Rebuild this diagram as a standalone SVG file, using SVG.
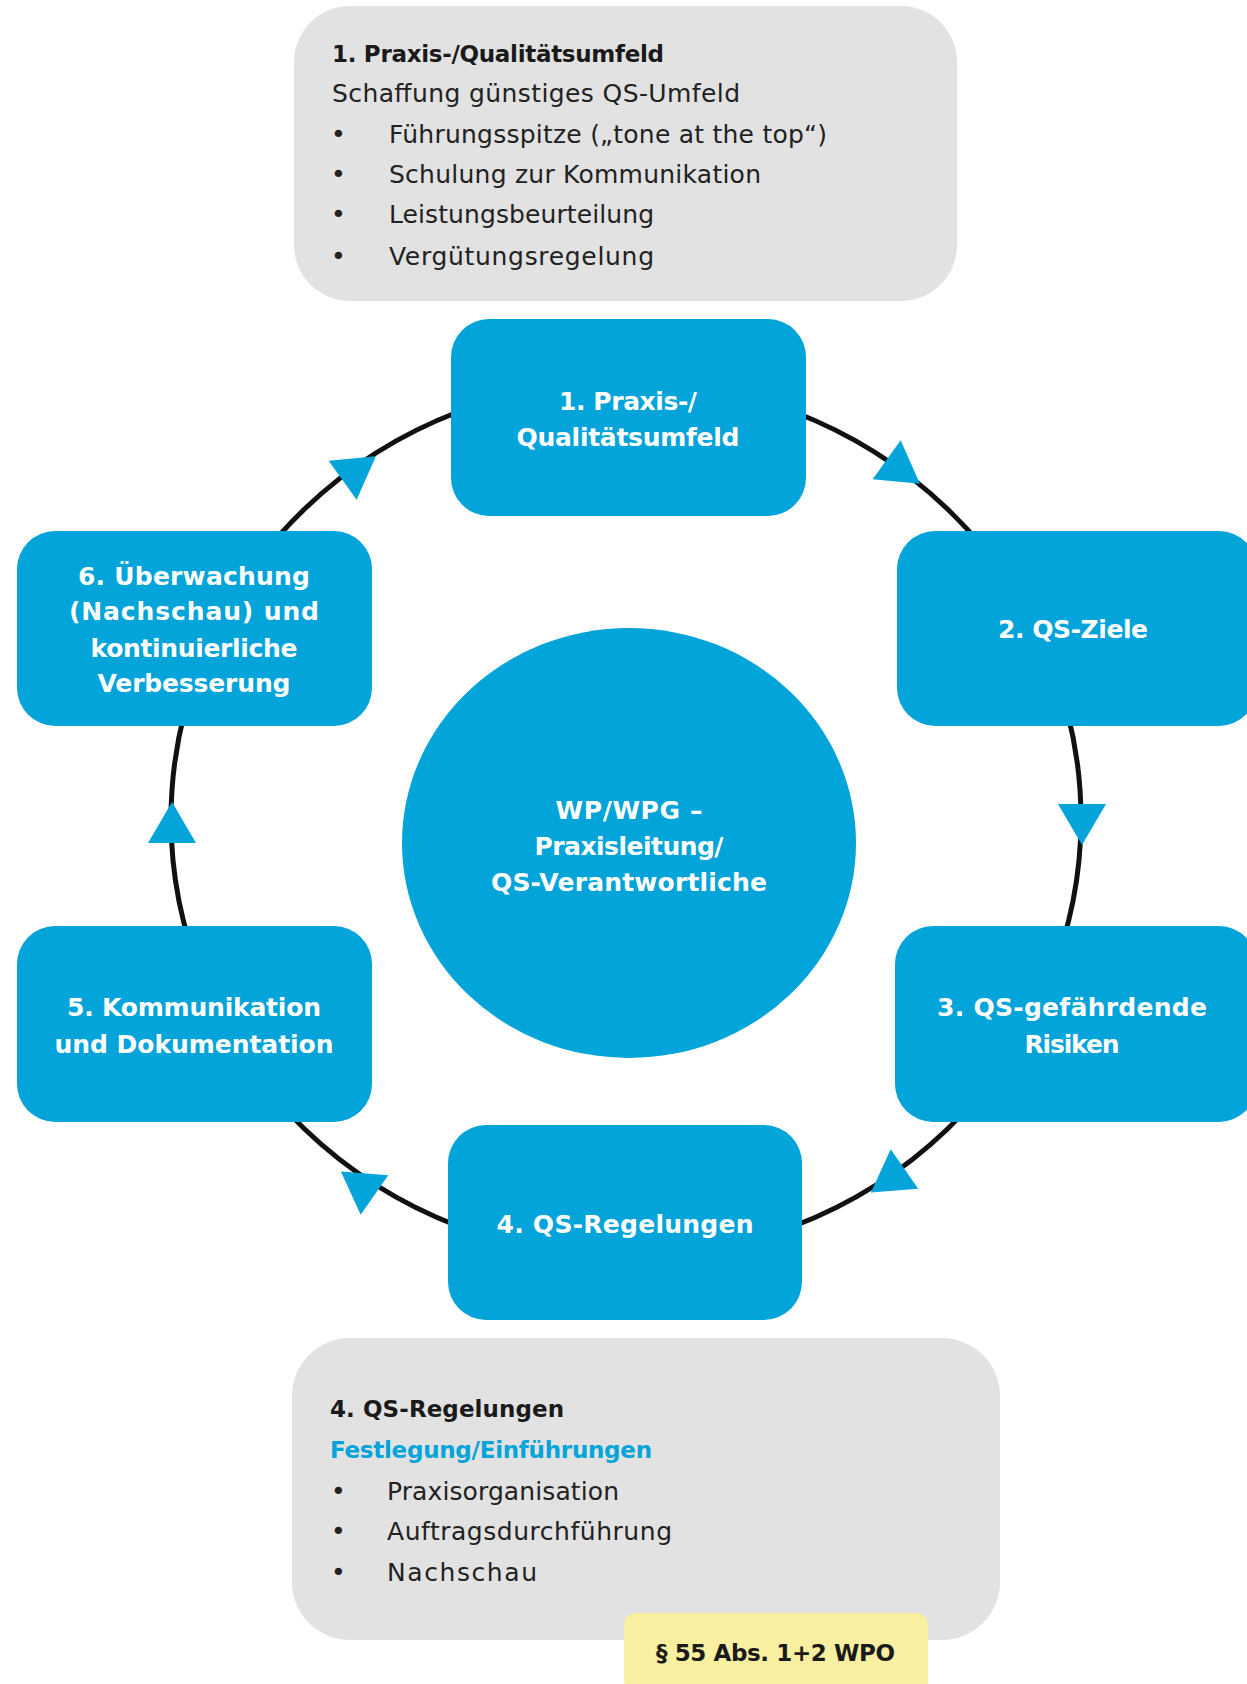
<svg xmlns="http://www.w3.org/2000/svg" width="1247" height="1684" viewBox="0 0 1247 1684">
<style>
.grey{fill:#E1E2E1}
.blue{fill:#03A4DA}
.lbl{font-family:"DejaVu Sans","Liberation Sans",sans-serif;font-weight:bold;font-size:25px;fill:#ffffff;text-anchor:middle}
.body{font-family:"DejaVu Sans","Liberation Sans",sans-serif;font-size:25px;fill:#222222}
.bhead{font-family:"DejaVu Sans","Liberation Sans",sans-serif;font-size:23px;font-weight:bold;fill:#1a1a1a}
.bluehead{font-family:"DejaVu Sans","Liberation Sans",sans-serif;font-size:23px;font-weight:bold;fill:#03A4DA}
.ring{fill:none;stroke:#111111;stroke-width:5}
.arr{fill:#03A4DA}
</style>
<defs>
<polygon id="tri" points="27,0 -14,-24 -14,24"/>
</defs>

<g id="info-top">
<rect class="grey" x="294" y="6" width="663" height="295" rx="56"/>
<text class="bhead" x="332" y="62" textLength="332">1. Praxis-/Qualitätsumfeld</text>
<text class="body" x="332" y="102" textLength="408">Schaffung günstiges QS-Umfeld</text>
<text class="body" x="331" y="143">•</text>
<text class="body" x="389" y="143" textLength="438">Führungsspitze („tone at the top“)</text>
<text class="body" x="331" y="183">•</text>
<text class="body" x="389" y="183" textLength="372">Schulung zur Kommunikation</text>
<text class="body" x="331" y="223">•</text>
<text class="body" x="389" y="223" textLength="265">Leistungsbeurteilung</text>
<text class="body" x="331" y="265">•</text>
<text class="body" x="389" y="265" textLength="265">Vergütungsregelung</text>
</g>

<g id="connectors">
<ellipse class="ring" cx="626" cy="819" rx="455" ry="438"/>
<use href="#tri" class="arr" transform="translate(898,468) rotate(35.7)"/>
<use href="#tri" class="arr" transform="translate(1082,818) rotate(90)"/>
<use href="#tri" class="arr" transform="translate(893,1177) rotate(145)"/>
<use href="#tri" class="arr" transform="translate(363,1187) rotate(-145)"/>
<use href="#tri" class="arr" transform="translate(172,829) rotate(-90)"/>
<use href="#tri" class="arr" transform="translate(354,472) rotate(-35.7)"/>
</g>

<g id="node-1">
<rect class="blue" x="451" y="319" width="355" height="197" rx="38"/>
<text class="lbl" x="628" y="410" textLength="138">1. Praxis-/</text>
<text class="lbl" x="628" y="446" textLength="223">Qualitätsumfeld</text>
</g>

<g id="node-2">
<rect class="blue" x="897" y="531" width="360" height="195" rx="38"/>
<text class="lbl" x="1073" y="638" textLength="150">2. QS-Ziele</text>
</g>

<g id="node-3">
<rect class="blue" x="895" y="926" width="362" height="196" rx="38"/>
<text class="lbl" x="1072" y="1016" textLength="270">3. QS-gefährdende</text>
<text class="lbl" x="1072" y="1053" textLength="95">Risiken</text>
</g>

<g id="node-4">
<rect class="blue" x="448" y="1125" width="354" height="195" rx="38"/>
<text class="lbl" x="625" y="1233" textLength="257">4. QS-Regelungen</text>
</g>

<g id="node-5">
<rect class="blue" x="17" y="926" width="355" height="196" rx="38"/>
<text class="lbl" x="194" y="1016" textLength="254">5. Kommunikation</text>
<text class="lbl" x="194" y="1053" textLength="279">und Dokumentation</text>
</g>

<g id="node-6">
<rect class="blue" x="17" y="531" width="355" height="195" rx="38"/>
<text class="lbl" x="194" y="585" textLength="232">6. Überwachung</text>
<text class="lbl" x="194" y="620" textLength="250">(Nachschau) und</text>
<text class="lbl" x="194" y="657" textLength="207">kontinuierliche</text>
<text class="lbl" x="194" y="692" textLength="193">Verbesserung</text>
</g>

<g id="node-center">
<ellipse class="blue" cx="629" cy="843" rx="227" ry="215"/>
<text class="lbl" x="629" y="819" textLength="147">WP/WPG –</text>
<text class="lbl" x="629" y="855" textLength="189">Praxisleitung/</text>
<text class="lbl" x="629" y="891" textLength="276">QS-Verantwortliche</text>
</g>

<g id="info-bottom">
<rect class="grey" x="292" y="1338" width="708" height="302" rx="58"/>
<text class="bhead" x="330" y="1417" textLength="234">4. QS-Regelungen</text>
<text class="bluehead" x="330" y="1458" textLength="322">Festlegung/Einführungen</text>
<text class="body" x="331" y="1500">•</text>
<text class="body" x="387" y="1500" textLength="232">Praxisorganisation</text>
<text class="body" x="331" y="1540">•</text>
<text class="body" x="387" y="1540" textLength="285">Auftragsdurchführung</text>
<text class="body" x="331" y="1581">•</text>
<text class="body" x="387" y="1581" textLength="150">Nachschau</text>
</g>

<g id="note-wpo">
<rect x="624" y="1613" width="304" height="80" rx="12" fill="#F8EFA0"/>
<text class="bhead" x="656" y="1661" font-size="24" textLength="239">§ 55 Abs. 1+2 WPO</text>
</g>
</svg>
